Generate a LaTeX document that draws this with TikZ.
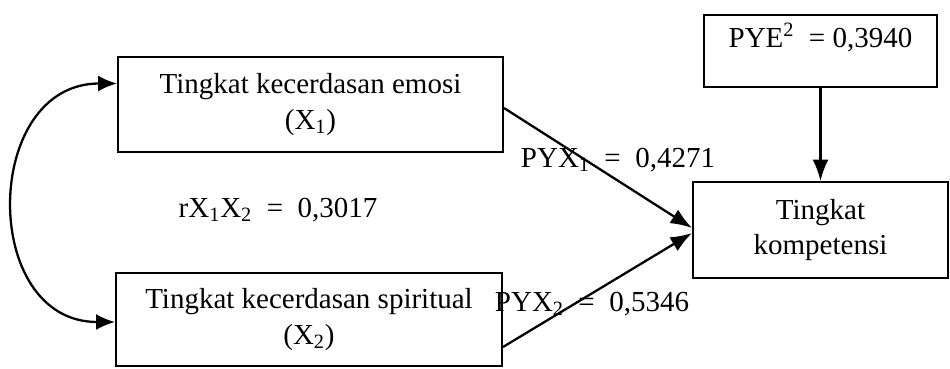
\documentclass[tikz,border=0pt]{standalone}
\usepackage{fontspec}
\setmainfont{Liberation Serif}
\usetikzlibrary{arrows.meta, positioning}

\begin{document}
\begin{tikzpicture}
    % Setup the styles for the boxes, labels and arrows
    \tikzset{box style/.style={draw,
                               line width=1.1pt,
                               align=center,
                               inner sep=0pt,
                               font=\fontsize{16.5}{20}\selectfont},
             label style/.style={inner sep=0pt,
                                 font=\fontsize{16.5}{20}\selectfont},
             arrow style/.style={line width=1.3pt,
                                 arrows={-Latex[length=4.3mm, width=3.2mm]}}}

    % Fix the margins
    \useasboundingbox (0, 0) rectangle (19, -7.36);

    % Draw the boxes
    \node[box style, minimum width=7.7cm,  minimum height=1.9cm]  at (6.21, -2.09)  (emosi)
        {Tingkat kecerdasan emosi\\(X\textsubscript{1})};
    \node[box style, minimum width=7.72cm, minimum height=1.86cm] at (6.18, -6.39)  (spiritual)
        {Tingkat kecerdasan spiritual\\(X\textsubscript{2})};
    \node[box style, minimum width=5.1cm,  minimum height=1.92cm] at (16.41, -4.6)  (kompetensi)
        {Tingkat\\kompetensi};
    \node[box style, minimum width=4.66cm, minimum height=1.44cm,
          text height=0.44cm, text depth=0.58cm]                   at (16.41, -1.02) (residu)
        {PYE\textsuperscript{2} \ = 0,3940};

    % Draw the coefficients
    \node[label style] at (5.56, -4.2)   (korelasi) {rX\textsubscript{1}X\textsubscript{2} \ = \ 0,3017};
    \node[label style] at (12.36, -3.2)  (pyx1)     {PYX\textsubscript{1} \ = \ 0,4271};
    \node[label style] at (11.84, -6.08) (pyx2)     {PYX\textsubscript{2} \ = \ 0,5346};

    % Connect the boxes with arrows
    \draw[arrow style, {Latex[length=3.8mm, width=3.2mm]}-{Latex[length=3.8mm, width=3.2mm]}]
        ([yshift=0.42cm]emosi.west) to[out=180, in=180, looseness=1.45] ([yshift=-0.05cm]spiritual.west);
    \draw[arrow style] ([yshift=-0.07cm]emosi.east)     -- ([yshift=0.04cm]kompetensi.west);
    \draw[arrow style] ([yshift=-0.55cm]spiritual.east) -- ([yshift=-0.06cm]kompetensi.west);
    \draw[arrow style] (residu) -- (kompetensi);
\end{tikzpicture}
\end{document}
